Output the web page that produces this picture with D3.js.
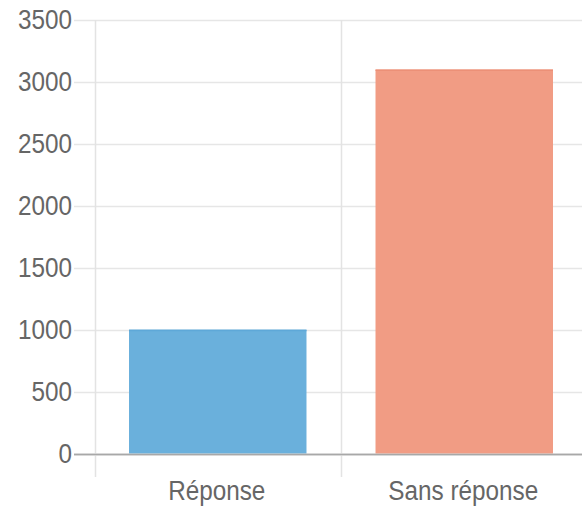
<!DOCTYPE html>
<html><head><meta charset="utf-8">
<script src="https://cdn.jsdelivr.net/npm/d3@7"></script>
<style>body{margin:0;background:#fff}svg{display:block}</style>
</head><body>
<svg id="c" width="582" height="514"></svg>
<script>
const categories = ["Réponse", "Sans réponse"];
const values = [1000, 3100];
const colors = ["#6ab0dc", "#f19c84"];
const borders = ["#5ea8d8", "#ec9077"];
const yTicks = [0, 500, 1000, 1500, 2000, 2500, 3000, 3500];

(function () {
const svg = d3.select("#c");
const pLeft = 94.5, pRight = 587.5, pTop = 20, pBottom = 453.5;
const x = d3.scaleBand().domain(categories).range([pLeft, pRight]).padding(0);
const y = d3.scaleLinear().domain([0, 3500]).range([pBottom, pTop]);
const font = "'Liberation Sans', Arial, sans-serif";

// horizontal grid
svg.append("g").selectAll("line").data(yTicks).join("line")
  .attr("x1", 74).attr("x2", 582)
  .attr("y1", d => Math.round(y(d)) + 0.5).attr("y2", d => Math.round(y(d)) + 0.5)
  .attr("stroke", d => d === 0 ? "#a8a8a8" : "#e6e6e6").attr("stroke-width", 1.5);

// vertical grid
const vx = [pLeft, pLeft + x.bandwidth(), pLeft + 2 * x.bandwidth()];
svg.append("g").selectAll("line").data(vx).join("line")
  .attr("x1", d => Math.round(d) + 0.5).attr("x2", d => Math.round(d) + 0.5)
  .attr("y1", pTop).attr("y2", 477)
  .attr("stroke", "#e3e3e3").attr("stroke-width", 1.5);

// bars
const bw = x.bandwidth() * 0.72;
svg.append("g").selectAll("rect").data(values).join("rect")
  .attr("x", (d, i) => x(categories[i]) + (x.bandwidth() - bw) / 2)
  .attr("width", bw)
  .attr("y", d => y(d))
  .attr("height", d => y(0) - y(d))
  .attr("fill", (d, i) => colors[i]);
svg.append("g").selectAll("line").data(values).join("line")
  .attr("x1", (d, i) => x(categories[i]) + (x.bandwidth() - bw) / 2)
  .attr("x2", (d, i) => x(categories[i]) + (x.bandwidth() + bw) / 2)
  .attr("y1", d => y(d) + 0.75).attr("y2", d => y(d) + 0.75)
  .attr("stroke", (d, i) => borders[i]).attr("stroke-width", 1.5);

// zero line over bars
svg.append("line").attr("x1", 74).attr("x2", 582)
  .attr("y1", Math.round(y(0)) + 0.5).attr("y2", Math.round(y(0)) + 0.5)
  .attr("stroke", "#a8a8a8").attr("stroke-width", 1.5);

// y labels
svg.append("g").selectAll("text").data(yTicks).join("text")
  .attr("transform", d => `translate(72,${y(d)}) scale(0.9,1)`)
  .attr("text-anchor", "end").attr("dominant-baseline", "central")
  .attr("font-family", font).attr("font-size", 27).attr("fill", "#666")
  .text(d => d);

// x labels
svg.append("g").selectAll("text").data(categories).join("text")
  .attr("transform", d => `translate(${x(d) + x.bandwidth() / 2 - 1},500) scale(0.9,1)`)
  .attr("text-anchor", "middle")
  .attr("font-family", font).attr("font-size", 27).attr("fill", "#666")
  .text(d => d);
})();
</script>
</body></html>
